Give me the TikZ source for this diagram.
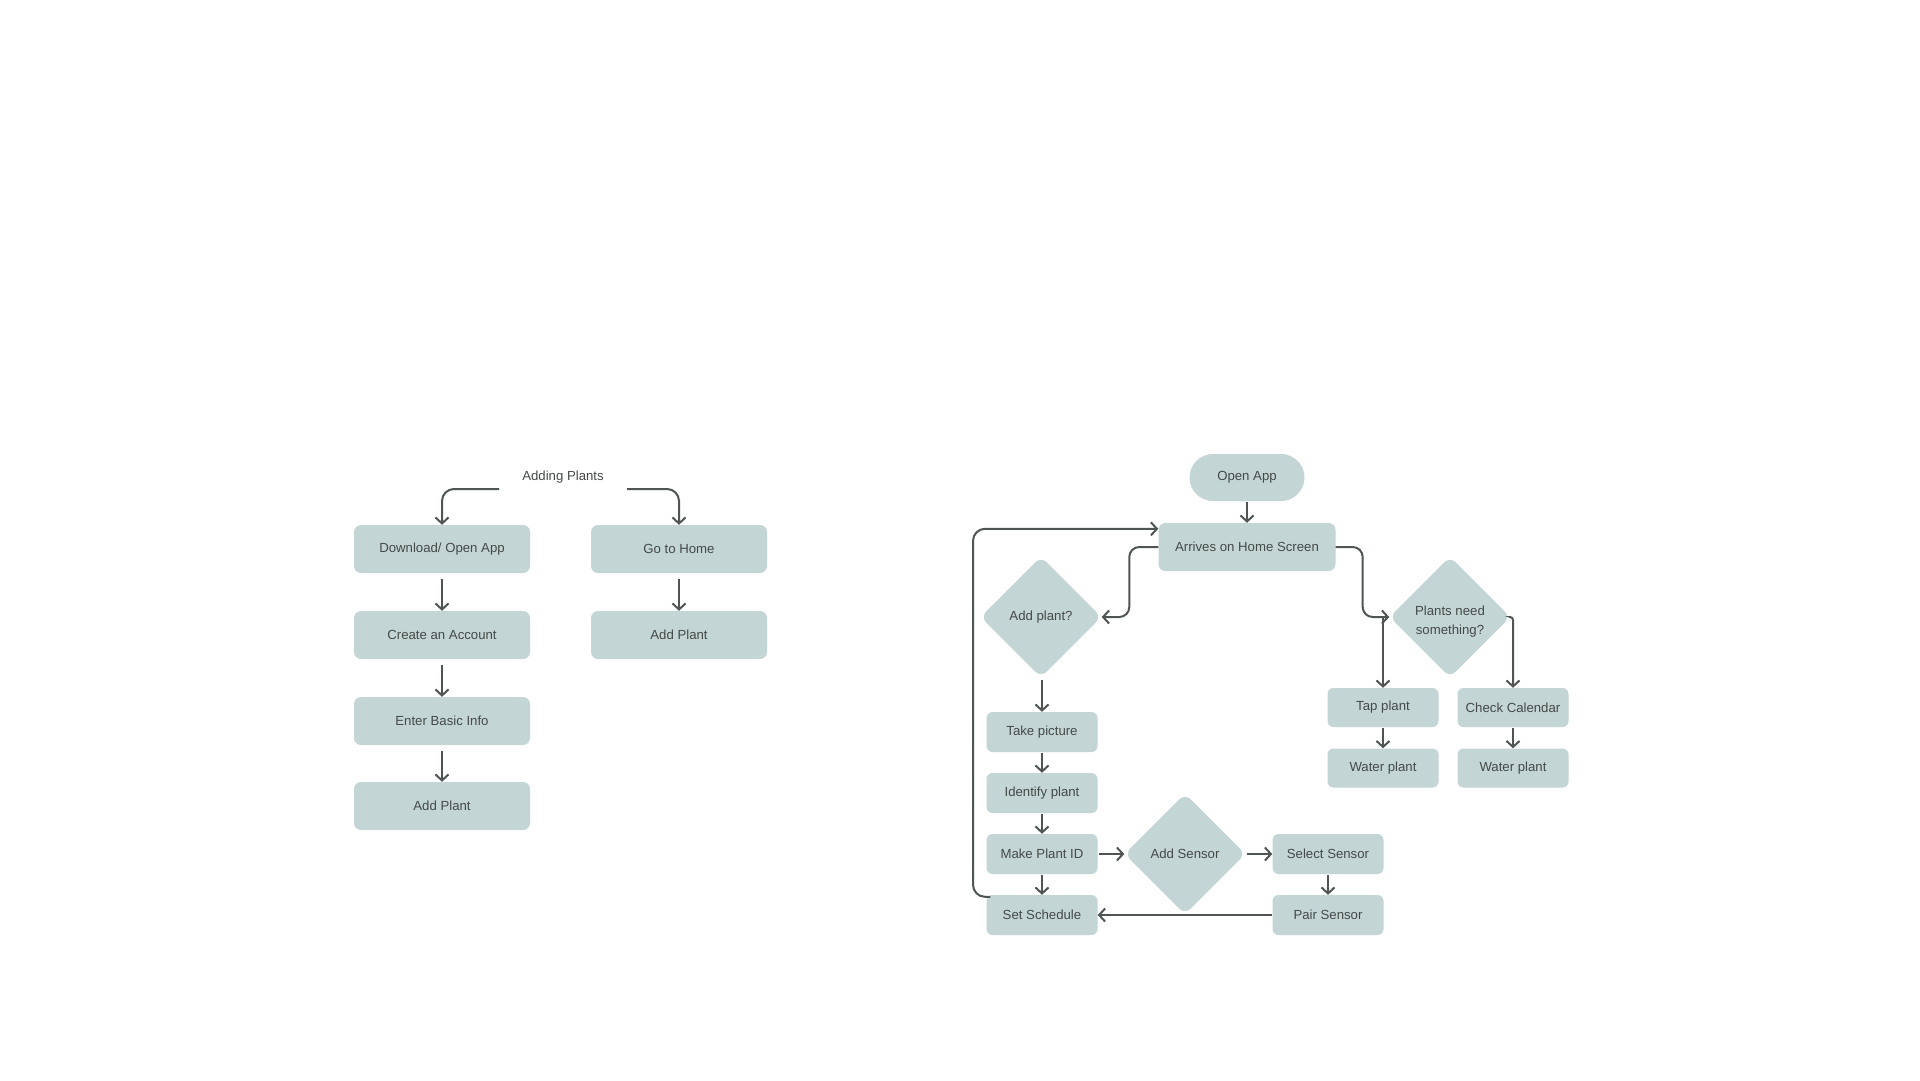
\documentclass[tikz,border=0pt]{standalone}
\usepackage{fontspec}
\setmainfont{Liberation Sans}
\usetikzlibrary{arrows.meta,shapes.geometric,calc}
\definecolor{boxfill}{HTML}{C3D5D5}
\definecolor{linec}{HTML}{4E5553}
\definecolor{txt}{HTML}{444A48}
\begin{document}
\begin{tikzpicture}[x=1pt,y=-1pt,
  basefont/.style={text=txt, font=\fontsize{13.2}{19}\selectfont},
  bigbox/.style={basefont, fill=boxfill, rounded corners=7pt, minimum width=176pt, minimum height=48pt, inner sep=0pt},
  smallbox/.style={basefont, fill=boxfill, rounded corners=6pt, minimum width=111pt, minimum height=40pt, inner sep=0pt},
  pill/.style={basefont, fill=boxfill, rounded corners=23.5pt, minimum width=115pt, minimum height=47pt, inner sep=0pt},
  homebox/.style={basefont, fill=boxfill, rounded corners=7pt, minimum width=177pt, minimum height=48pt, inner sep=0pt},
  dia/.style={basefont, diamond, aspect=1, fill=boxfill, rounded corners=8pt, minimum width=121pt, minimum height=121pt, inner sep=0pt},
  lbl/.style={basefont, inner sep=0pt},
  arr/.style={draw=linec, line width=2pt, -{Straight Barb[length=6pt,width=13pt]}}
]
\useasboundingbox[fill=white] (0,0) rectangle (1920,1080);

% ---------- Left diagram ----------
\node[lbl] (title) at (563,477) {Adding Plants};
\coordinate (tl) at (499,489);
\coordinate (tr) at (627,489);
\node[bigbox] (b1) at (442,549) {Download/ Open App};
\node[bigbox] (b2) at (442,635) {Create an Account};
\node[bigbox] (b3) at (442,721) {Enter Basic Info};
\node[bigbox] (b4) at (442,806) {Add Plant};
\node[bigbox] (r1) at (679,549) {Go to Home};
\node[bigbox] (r2) at (679,635) {Add Plant};

\draw[arr, rounded corners=12pt] (tl) -| (b1.north);
\draw[arr, rounded corners=12pt] (tr) -| (r1.north);
\draw[arr, shorten <=6pt] (b1.south) -- (b2.north);
\draw[arr, shorten <=6pt] (b2.south) -- (b3.north);
\draw[arr, shorten <=6pt] (b3.south) -- (b4.north);
\draw[arr, shorten <=6pt] (r1.south) -- (r2.north);

% ---------- Right diagram ----------
\node[pill] (open) at (1247,477.5) {Open App};
\node[homebox] (home) at (1247,547) {Arrives on Home Screen};
\node[dia] (addp) at (1041,617) {Add plant?};
\node[dia] (pn) at (1450,617) {\raisebox{-4pt}[\height][\depth]{\begin{tabular}{@{}c@{}}Plants need\\something?\end{tabular}}};
\node[smallbox] (tp) at (1042,732) {Take picture};
\node[smallbox] (ip) at (1042,793) {Identify plant};
\node[smallbox] (mp) at (1042,854) {Make Plant ID};
\node[smallbox] (ss) at (1042,915) {Set Schedule};
\node[dia] (as) at (1185,854) {Add Sensor};
\node[smallbox] (sel) at (1328,854) {Select Sensor};
\node[smallbox] (pair) at (1328,915) {Pair Sensor};
\node[smallbox, minimum height=39pt] (tap) at (1383,707.5) {Tap plant};
\node[smallbox, minimum height=39pt] (wl) at (1383,768) {Water plant};
\node[smallbox, minimum height=39pt] (cc) at (1513,707.5) {Check Calendar};
\node[smallbox, minimum height=39pt] (wr) at (1513,768) {Water plant};
\coordinate (hin) at ($(home.north west)+(0,6)$);
\coordinate (loopc) at (973,0);
\coordinate (sst) at ($(ss.north west)+(4,2)$);

\draw[arr, shorten <=1pt] (open.south) -- (home.north);
\draw[arr, rounded corners=10pt] (home.west) -- ++(-29,0) |- (addp.east);
\draw[arr, rounded corners=10pt] (home.east) -- ++(27,0) |- (pn.west);
\draw[arr] (pn.west -| tap.north) -- (tap.north);
\draw[arr, rounded corners=3pt] (pn.east) -| (cc.north);
\draw[arr, shorten <=1pt] (tap.south) -- (wl.north);
\draw[arr, shorten <=1pt] (cc.south) -- (wr.north);
\draw[arr, shorten <=2pt] (addp.south -| tp.north) -- (tp.north);
\draw[arr, shorten <=1pt] (tp.south) -- (ip.north);
\draw[arr, shorten <=1pt] (ip.south) -- (mp.north);
\draw[arr, shorten <=1pt] (mp.south) -- (ss.north);
\draw[arr, shorten <=1pt] (mp.east) -- (as.west);
\draw[arr, shorten <=1pt] (as.east) -- (sel.west);
\draw[arr, shorten <=1pt] (sel.south) -- (pair.north);
\draw[arr] (pair.west) -- (ss.east);
\draw[arr, rounded corners=12pt] (sst) -| (loopc |- hin) -- (hin);
\end{tikzpicture}
\end{document}
